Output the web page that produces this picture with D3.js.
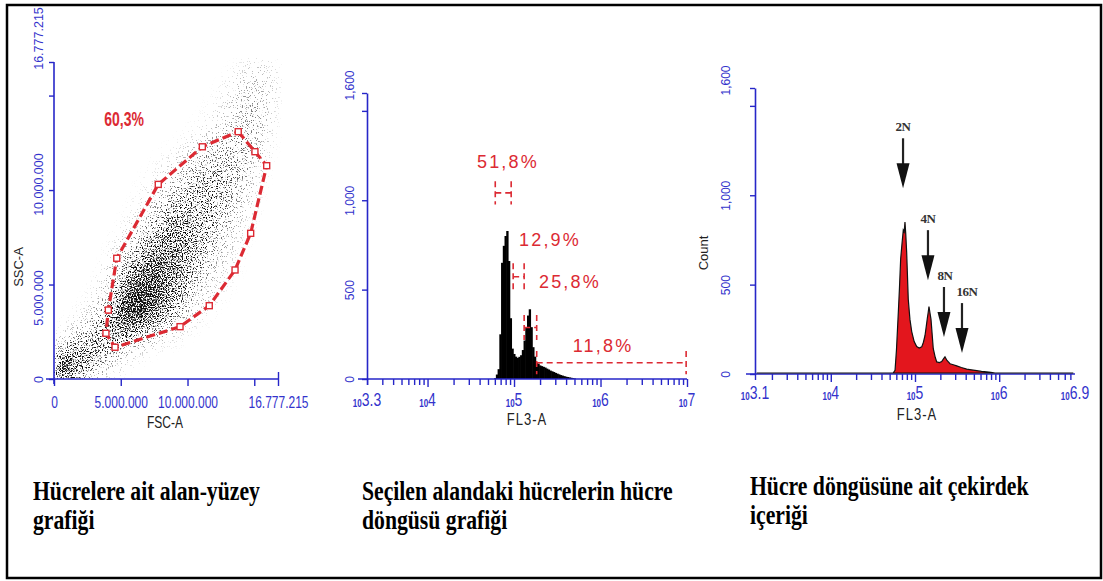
<!DOCTYPE html>
<html><head><meta charset="utf-8">
<script src="https://cdn.jsdelivr.net/npm/d3@7"></script>
<style>
body{margin:0;background:#fff}
svg{display:block}
</style></head><body>
<svg id="c" width="1103" height="581"></svg>
<script>
// ---------------- DATA ----------------
// Panel 1: FSC-A vs SSC-A
const FSC_MAX = 16777215;
const p1Ticks = [0, 5000000, 10000000, 15000000, 16777215];
const p1TickLabels = ["0", "5.000.000", "10.000.000", "", "16.777.215"];
const CELL = 1000000; // density grid cell (data units)
// event density, rows from SSC 16M (top) down to 0
const scatterDensity = [
  [0,0,0,0,0,0,0,0,0,0,0,0,0.01,0.04,0.1,0.12,0.08],
  [0,0,0,0,0,0,0,0,0,0,0,0.01,0.04,0.12,0.17,0.16,0.09],
  [0,0,0,0,0,0,0,0,0,0,0.01,0.03,0.08,0.16,0.21,0.19,0.08],
  [0,0,0,0,0,0,0,0,0,0.01,0.03,0.07,0.14,0.22,0.24,0.19,0.06],
  [0,0,0,0,0,0,0,0.01,0.02,0.05,0.1,0.17,0.24,0.28,0.26,0.16,0.04],
  [0,0,0,0,0,0,0.01,0.03,0.07,0.13,0.22,0.3,0.33,0.32,0.25,0.1,0.02],
  [0,0,0,0,0,0.01,0.03,0.07,0.15,0.26,0.35,0.39,0.36,0.29,0.18,0.06,0.01],
  [0,0,0,0,0.01,0.02,0.06,0.15,0.28,0.39,0.45,0.43,0.36,0.25,0.12,0.03,0],
  [0,0,0,0,0.01,0.05,0.13,0.28,0.43,0.5,0.49,0.42,0.31,0.18,0.07,0.02,0],
  [0,0,0,0.01,0.04,0.13,0.28,0.45,0.56,0.56,0.49,0.38,0.25,0.12,0.04,0.01,0],
  [0,0,0,0.02,0.11,0.28,0.48,0.64,0.66,0.58,0.44,0.29,0.16,0.07,0.02,0,0],
  [0,0,0.01,0.05,0.22,0.5,0.72,0.78,0.68,0.52,0.35,0.2,0.1,0.04,0.01,0,0],
  [0,0.01,0.03,0.13,0.4,0.74,0.9,0.82,0.62,0.41,0.24,0.12,0.05,0.02,0,0,0],
  [0.01,0.04,0.1,0.27,0.55,0.85,0.86,0.68,0.45,0.26,0.12,0.05,0.02,0,0,0,0],
  [0.05,0.14,0.3,0.45,0.55,0.54,0.42,0.28,0.16,0.08,0.03,0.01,0,0,0,0,0],
  [0.3,0.5,0.52,0.45,0.3,0.17,0.08,0.04,0.02,0.01,0,0,0,0,0,0,0],
  [1.0,0.65,0.4,0.2,0.09,0.03,0.01,0,0,0,0,0,0,0,0,0,0]
];
const gateFSC = [13800000,15050000,15930000,14730000,13560000,11630000,9440000,4570000,3890000,4070000,4700000,7810000,11110000];
const gateSSC = [13090000,12030000,11290000,7710000,5770000,3880000,2770000,1680000,2420000,3650000,6390000,10300000,12290000];
const gate1Label = "60,3%";
const gate1LabelAt = [5250000, 13750000];

// Panel 2: FL3-A histogram (log10 bin centres) with gates
const p2Log = [4.78,4.80,4.82,4.84,4.86,4.88,4.90,4.92,4.94,4.96,4.98,5.00,5.02,5.04,5.06,5.08,5.10,5.12,5.14,5.16,5.18,5.20,5.22,5.24,5.26,5.28,5.30,5.32,5.34,5.36,5.38,5.40,5.42,5.44,5.46,5.48,5.50,5.52,5.54,5.56,5.58,5.60,5.62,5.64,5.66,5.68,5.70];
const p2Count = [5,25,55,250,650,745,800,828,660,340,170,140,125,118,124,133,162,215,290,355,390,290,178,125,95,86,76,72,68,64,58,53,47,43,39,34,30,26,22,19,16,13,11,9,7,5,3];
const p2BinWidth = 0.02;
const gateLo = [4.783, 4.990, 5.117, 5.262];
const gateHi = [4.967, 5.117, 5.262, 6.99];
const gateLevel = [1041, 572, 288, 91];
const gateHalf = [65, 75, 70, 65];
const gateLabels = ["51,8%", "12,9%", "25,8%", "11,8%"];
const gateLabelLog = [4.930, 5.416, 5.647, 6.029];
const gateLabelCount = [1214, 778, 543, 190];

// Panel 3: FL3-A histogram (outline points) with ploidy arrows
const p3Log = [3.12,4.74,4.763,4.78,4.802,4.815,4.830,4.845,4.861,4.872,4.881,4.890,4.901,4.920,4.940,4.961,4.99,5.020,5.05,5.080,5.10,5.119,5.135,5.146,5.157,5.166,5.178,5.190,5.217,5.24,5.258,5.29,5.317,5.34,5.356,5.38,5.416,5.455,5.495,5.55,5.614,5.67,5.733,5.79,5.851,5.9,5.95,6.88];
const p3Count = [0,0,15,130,340,470,640,720,800,790,845,780,676,413,300,232,176,148,140,146,172,210,265,305,340,372,335,300,136,88,62,58,64,80,90,70,52,46,40,31,22,18,13,9,6,3,0,0];
const ploidyLabels = ["2N", "4N", "8N", "16N"];
const ploidyLog = [4.858, 5.154, 5.344, 5.558];
const ploidyLabelLog = [4.858, 5.154, 5.356, 5.617];
const ploidyTipCount = [1039, 525, 207, 117];

// shared count axis
const countTicks = [0, 500, 1000, 1500, 1600];
const countTickLabels = ["0", "500", "1,000", "", "1,600"];
const p2Exps = [3.3, 4, 5, 6, 7];
const p2ExpLabels = ["3.3", "4", "5", "6", "7"];
const p3Exps = [3.1, 4, 5, 6, 6.9];
const p3ExpLabels = ["3.1", "4", "5", "6", "6.9"];

const captions = [
  ["Hücrelere ait alan-yüzey", "grafiği"],
  ["Seçilen alandaki hücrelerin hücre", "döngüsü grafiği"],
  ["Hücre döngüsüne ait çekirdek", "içeriği"]
];

// ---------------- STYLE ----------------
const BLUE = "#2626c8", BLUE_T = "#3333cc", RED = "#dc2a33", FILL_RED = "#e3161d";
const SANS = "'Liberation Sans', Arial, sans-serif";
const SERIF = "'Liberation Serif', 'Times New Roman', serif";

const svg = d3.select("#c");
const defs = svg.append("defs");

svg.append("rect").attr("x", 7).attr("y", 5).attr("width", 1094).attr("height", 573)
  .attr("fill", "none").attr("stroke", "#000").attr("stroke-width", 2.5);

function styleAxis(g) {
  g.select(".domain").attr("stroke", BLUE).attr("stroke-width", 1.6);
  g.selectAll(".tick line").attr("stroke", BLUE).attr("stroke-width", 1.4);
  g.selectAll(".tick text").attr("fill", BLUE_T).attr("font-family", SANS);
}

// ---------------- PANEL 1 ----------------
const x1 = d3.scaleLinear().domain([0, FSC_MAX]).range([54, 278]);
const y1 = d3.scaleLinear().domain([0, FSC_MAX]).range([379, 62]);
const p1 = svg.append("g");

const f = defs.append("filter").attr("id", "speckle").attr("filterUnits", "userSpaceOnUse")
  .attr("x", x1(0)).attr("y", y1(FSC_MAX) - 4).attr("width", x1(FSC_MAX) - x1(0) + 4).attr("height", y1(0) - y1(FSC_MAX) + 4)
  .attr("color-interpolation-filters", "sRGB");
f.append("feGaussianBlur").attr("in", "SourceAlpha").attr("stdDeviation", "6 8").attr("result", "blur");
f.append("feTurbulence").attr("type", "fractalNoise").attr("baseFrequency", "0.8").attr("numOctaves", 2).attr("seed", 5).attr("result", "noise");
f.append("feColorMatrix").attr("in", "noise").attr("type", "matrix")
  .attr("values", "0 0 0 0 0  0 0 0 0 0  0 0 0 0 0  2.6 0 0 0 -0.8").attr("result", "n");
f.append("feComposite").attr("in", "blur").attr("in2", "n").attr("operator", "arithmetic")
  .attr("k1", 0).attr("k2", 1.0).attr("k3", -1).attr("k4", -0.015).attr("result", "d");
const ct = f.append("feComponentTransfer").attr("in", "d").attr("result", "dots");
ct.append("feFuncA").attr("type", "linear").attr("slope", 2.6).attr("intercept", 0);
ct.append("feFuncR").attr("type", "linear").attr("slope", 0).attr("intercept", 0.06);
ct.append("feFuncG").attr("type", "linear").attr("slope", 0).attr("intercept", 0.06);
ct.append("feFuncB").attr("type", "linear").attr("slope", 0).attr("intercept", 0.06);

const cells = [];
scatterDensity.forEach((row, r) => row.forEach((v, c) => {
  cells.push({ x0: c * CELL, y0: (scatterDensity.length - 1 - r) * CELL, v });
}));
p1.append("g").attr("filter", "url(#speckle)")
  .selectAll("rect").data(cells).join("rect")
  .attr("x", d => x1(d.x0)).attr("y", d => y1(d.y0 + CELL))
  .attr("width", x1(CELL) - x1(0) + 0.5).attr("height", y1(0) - y1(CELL) + 0.5)
  .attr("fill", "#000").attr("fill-opacity", d => d.v);

// axes
const ax1 = p1.append("g").attr("transform", `translate(0,${y1(0)})`)
  .call(d3.axisBottom(x1).tickValues(p1Ticks).tickFormat((d, i) => p1TickLabels[i]).tickSize(7).tickSizeOuter(0));
ax1.select(".domain").attr("d", `M${x1(0) - 8},0H${x1(FSC_MAX)}`);
styleAxis(ax1);
ax1.selectAll(".tick text").attr("y", 0).attr("dy", 0).attr("font-size", 12)
  .attr("transform", "translate(0,29) scale(1,1.4)");
ax1.selectAll(".tick").filter(d => d === FSC_MAX).select("line").attr("y1", -7);

const P1Y_SHIFT = [0, 13, -6, 0, -24];
const ay1 = p1.append("g").attr("transform", `translate(${x1(0)},0)`)
  .call(d3.axisLeft(y1).tickValues(p1Ticks).tickFormat((d, i) => p1TickLabels[i]).tickSize(5).tickSizeOuter(0));
ay1.select(".domain").attr("d", `M0,${y1(0) + 5}V${y1(FSC_MAX)}`);
styleAxis(ay1);
ay1.selectAll(".tick text").attr("x", 0).attr("dy", 0).attr("font-size", 12.5).attr("text-anchor", "middle")
  .attr("transform", (d, i) => `translate(-11,${P1Y_SHIFT[i]}) rotate(-90)`);

// gate
const gatePts = gateFSC.map((v, i) => [x1(v), y1(gateSSC[i])]);
p1.append("path").attr("d", d3.line().curve(d3.curveLinearClosed)(gatePts))
  .attr("fill", "none").attr("stroke", RED).attr("stroke-width", 3.2).attr("stroke-dasharray", "9,4");
p1.selectAll(".vtx").data(gatePts).join("rect").attr("class", "vtx")
  .attr("x", d => d[0] - 3).attr("y", d => d[1] - 3).attr("width", 6).attr("height", 6)
  .attr("fill", "#fff").attr("stroke", RED).attr("stroke-width", 1.4);
p1.append("text").text(gate1Label)
  .attr("transform", `translate(${x1(gate1LabelAt[0])},${y1(gate1LabelAt[1]) + 7}) scale(1,1.45)`)
  .attr("text-anchor", "middle").attr("font-family", SANS).attr("font-weight", "bold")
  .attr("font-size", 14).attr("fill", RED);

// titles
p1.append("text").text("FSC-A").attr("transform", "translate(165,428) scale(1,1.35)")
  .attr("text-anchor", "middle").attr("font-family", SANS).attr("font-size", 12).attr("fill", "#222");
p1.append("text").text("SSC-A").attr("transform", "translate(23,267) rotate(-90)")
  .attr("text-anchor", "middle").attr("font-family", SANS).attr("font-size", 13).attr("fill", "#222");

// ---------------- log histogram panel helper ----------------
function countAxis(g, yS, xPos, labelOff) {
  const a = g.append("g").attr("transform", `translate(${xPos},0)`)
    .call(d3.axisLeft(yS).tickValues(countTicks).tickFormat((d, i) => countTickLabels[i]).tickSize(5).tickSizeOuter(0));
  styleAxis(a);
  a.selectAll(".tick text").attr("x", 0).attr("dy", 0).attr("font-size", 12).attr("text-anchor", "middle")
    .attr("transform", d => `translate(${labelOff},${d === 1600 ? -8 : 0}) rotate(-90)`);
  return a;
}
function logAxis(g, xS, yPos, exps, expLabels, labelY) {
  const tv = [xS.domain()[0]].concat(xS.ticks());
  const a = g.append("g").attr("transform", `translate(0,${yPos})`)
    .call(d3.axisBottom(xS).tickValues(tv).tickFormat("").tickSize(6).tickSizeOuter(0));
  a.select(".domain").attr("d", `M${xS.range()[0] - 9},0H${xS.range()[1]}`);
  styleAxis(a);
  a.selectAll(".tick").filter(d => Math.abs(Math.log10(d) - Math.round(Math.log10(d))) < 1e-9)
    .select("line").attr("y2", 8);
  const lab = g.append("g");
  exps.forEach((e, i) => {
    const t = lab.append("text").attr("text-anchor", "middle").attr("fill", BLUE_T).attr("font-family", SANS)
      .attr("transform", `translate(${xS(Math.pow(10, e))},${labelY}) scale(1,1.3)`);
    t.append("tspan").text("10").attr("font-size", 8).attr("font-weight", "bold").attr("dy", 1);
    t.append("tspan").text(expLabels[i]).attr("font-size", 14).attr("dy", -1);
  });
}

// ---------------- PANEL 2 ----------------
const x2 = d3.scaleLog().domain([Math.pow(10, 3.3), Math.pow(10, 7)]).range([367, 687]);
const y2 = d3.scaleLinear().domain([0, 1600]).range([379, 93]);
const p2 = svg.append("g");

p2.selectAll(".bar").data(p2Log.map((l, i) => ({ l, c: p2Count[i] }))).join("rect").attr("class", "bar")
  .attr("x", d => x2(Math.pow(10, d.l - p2BinWidth / 2)))
  .attr("width", d => x2(Math.pow(10, d.l + p2BinWidth / 2)) - x2(Math.pow(10, d.l - p2BinWidth / 2)) + 0.6)
  .attr("y", d => y2(d.c)).attr("height", d => y2(0) - y2(d.c)).attr("fill", "#000");

countAxis(p2, y2, 367, -13);
logAxis(p2, x2, 379, p2Exps, p2ExpLabels, 406);

const gates = gateLo.map((lo, i) => ({ lo, hi: gateHi[i], lv: gateLevel[i], h: gateHalf[i] }));
const gg = p2.append("g").attr("stroke", RED).attr("stroke-width", 1.6).attr("stroke-dasharray", "6,4").attr("fill", "none");
gates.forEach(g => {
  gg.append("line").attr("x1", x2(Math.pow(10, g.lo))).attr("x2", x2(Math.pow(10, g.hi)))
    .attr("y1", y2(g.lv)).attr("y2", y2(g.lv));
  [g.lo, g.hi].forEach(v => {
    gg.append("line").attr("x1", x2(Math.pow(10, v))).attr("x2", x2(Math.pow(10, v)))
      .attr("y1", y2(g.lv + g.h)).attr("y2", y2(Math.max(0, g.lv - g.h)));
  });
});
gateLabels.forEach((s, i) => {
  p2.append("text").text(s).attr("x", x2(Math.pow(10, gateLabelLog[i]))).attr("y", y2(gateLabelCount[i]) + 6.5)
    .attr("text-anchor", "middle").attr("font-family", SANS).attr("font-size", 18)
    .attr("letter-spacing", 2.2).attr("fill", RED);
});
p2.append("text").text("FL3-A").attr("transform", "translate(527,425) scale(1,1.3)")
  .attr("text-anchor", "middle").attr("font-family", SANS).attr("font-size", 13).attr("letter-spacing", 1).attr("fill", "#222");

// ---------------- PANEL 3 ----------------
const x3 = d3.scaleLog().domain([Math.pow(10, 3.1), Math.pow(10, 6.9)]).range([755, 1075]);
const y3 = d3.scaleLinear().domain([0, 1600]).range([374, 88]);
const p3 = svg.append("g");

countAxis(p3, y3, 755, -25);
logAxis(p3, x3, 374, p3Exps, p3ExpLabels, 399);

const p3Data = p3Log.map((l, i) => ({ l, c: p3Count[i] }));
p3.append("path").datum(p3Data)
  .attr("d", d3.area().x(d => x3(Math.pow(10, d.l))).y0(y3(0) - 1).y1(d => y3(d.c) - 1))
  .attr("fill", FILL_RED).attr("stroke", "#111").attr("stroke-width", 1.2);

const arrowLen = 50;
ploidyLabels.forEach((s, i) => {
  const ax = x3(Math.pow(10, ploidyLog[i]));
  const tip = y3(ploidyTipCount[i]);
  p3.append("line").attr("x1", ax).attr("x2", ax).attr("y1", tip - arrowLen).attr("y2", tip - 20)
    .attr("stroke", "#222").attr("stroke-width", 2.2);
  p3.append("path").attr("d", `M${ax - 6.5},${tip - 25}L${ax + 6.5},${tip - 25}L${ax},${tip}Z`).attr("fill", "#111");
  p3.append("text").text(s).attr("x", x3(Math.pow(10, ploidyLabelLog[i]))).attr("y", tip - arrowLen - 7)
    .attr("text-anchor", "middle").attr("font-family", SERIF).attr("font-weight", "bold")
    .attr("font-size", 13).attr("letter-spacing", -0.5).attr("fill", "#333");
});
p3.append("text").text("Count").attr("transform", "translate(708,253) rotate(-90)")
  .attr("text-anchor", "middle").attr("font-family", SANS).attr("font-size", 13).attr("fill", "#222");
p3.append("text").text("FL3-A").attr("transform", "translate(917,420) scale(1,1.3)")
  .attr("text-anchor", "middle").attr("font-family", SANS).attr("font-size", 13).attr("letter-spacing", 1).attr("fill", "#222");

// ---------------- CAPTIONS ----------------
const capX = [33, 362, 750];
const capY = [500, 500, 495];
captions.forEach((lines, i) => {
  lines.forEach((s, j) => {
    svg.append("text").text(s)
      .attr("transform", `translate(${capX[i]},${capY[i] + j * 29}) scale(1,1.25)`)
      .attr("font-family", SERIF).attr("font-weight", "bold").attr("font-size", 21.7).attr("fill", "#000");
  });
});
</script>
</body></html>
